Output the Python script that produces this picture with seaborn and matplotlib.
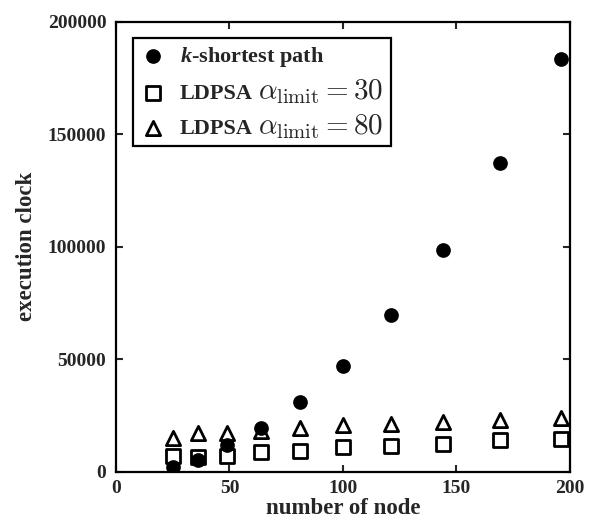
import pandas as pd
import seaborn as sns
from matplotlib import pyplot as plt
from matplotlib.patches import Rectangle

# number of nodes (grid sizes)
nodes = [25, 36, 49, 64, 81, 100, 121, 144, 169, 196]
k_shortest = [2200, 5200, 11900, 19300, 31100, 47000, 69500, 98800, 137200, 183700]
ldpsa_30 = [6800, 6400, 6800, 8900, 9300, 11000, 11400, 12400, 13900, 14700]
ldpsa_80 = [15000, 17000, 17400, 18200, 19300, 20700, 21300, 22200, 23200, 24100]

xticks = [0, 50, 100, 150, 200]
yticks = [0, 50000, 100000, 150000, 200000]

labels = [r"$k$-shortest path", "LDPSA", "LDPSA"]
alpha_parts = [r"$\alpha_{\rm limit}=30$", r"$\alpha_{\rm limit}=80$"]

df = pd.DataFrame({"nodes": nodes, "k": k_shortest, "l30": ldpsa_30, "l80": ldpsa_80})

sns.set_style("ticks")
plt.rcParams["font.family"] = ["Liberation Serif", "DejaVu Serif"]
plt.rcParams["font.weight"] = "bold"
plt.rcParams["mathtext.fontset"] = "custom"
plt.rcParams["mathtext.it"] = "Liberation Serif:italic:bold"
plt.rcParams["mathtext.rm"] = "Liberation Serif:bold"

fig = plt.figure(figsize=(5.93, 5.21), dpi=100)
ax = fig.add_axes([0.1956, 0.0946, 0.7656, 0.8632])

sns.scatterplot(data=df, x="nodes", y="k", marker="o", s=112, color="black",
                edgecolor="black", linewidth=0, label=labels[0], zorder=4, ax=ax)
sns.scatterplot(data=df, x="nodes", y="l30", marker="s", s=88, facecolor="white",
                edgecolor="black", linewidth=2.0, label=labels[1], zorder=3, ax=ax)
sns.scatterplot(data=df, x="nodes", y="l80", marker="^", s=105, facecolor="white",
                edgecolor="black", linewidth=2.0, label=labels[2], zorder=3, ax=ax)

ax.set_xlim(0, 200)
ax.set_ylim(0, 200000)
ax.set_xticks(xticks)
ax.set_yticks(yticks)
ax.set_xticklabels([str(t) for t in xticks], fontsize=14, fontweight="bold")
ax.set_yticklabels([str(t) for t in yticks], fontsize=14, fontweight="bold")
ax.tick_params(direction="in", top=True, right=True, length=5, width=1.5, pad=6)
ax.tick_params(axis="y", pad=7)
for sp in ax.spines.values():
    sp.set_linewidth(1.6)
    sp.set_color("black")

ax.set_xlabel("number of node", fontsize=16.5, fontweight="bold", labelpad=1)
ax.set_ylabel("execution clock", fontsize=16.5, fontweight="bold", labelpad=8)

leg = ax.legend(loc="upper left", bbox_to_anchor=(0.037, 0.965), borderaxespad=0,
                fontsize=16, frameon=False, handlelength=1.2, handletextpad=0.6,
                labelspacing=0.66, borderpad=0.32)

# the alpha_limit part is drawn larger, in Computer Modern, right after "LDPSA";
# the legend frame is drawn by hand around both
fig.canvas.draw()
rend = fig.canvas.get_renderer()
W, H = fig.bbox.width, fig.bbox.height
right = 0
for t, part in zip(leg.get_texts()[1:], alpha_parts):
    bb = t.get_window_extent(rend)
    fp = t.get_fontproperties()
    d = rend.get_text_width_height_descent("lp", fp, ismath=False)[2]
    mt = fig.text((bb.x1 + 5) / W, (bb.y0 + d) / H, part, fontsize=21,
                  fontweight="normal", va="baseline", ha="left", math_fontfamily="cm")
    right = max(right, mt.get_window_extent(rend).x1)

lb = leg.get_window_extent(rend)
x0, y0, y1 = lb.x0, lb.y0, lb.y1
x1 = right + 8
fig.add_artist(Rectangle((x0 / W, y0 / H), (x1 - x0) / W, (y1 - y0) / H,
                         transform=fig.transFigure, fill=False,
                         edgecolor="black", linewidth=1.6))

fig.savefig("out.png", dpi=100)
plt.close()
